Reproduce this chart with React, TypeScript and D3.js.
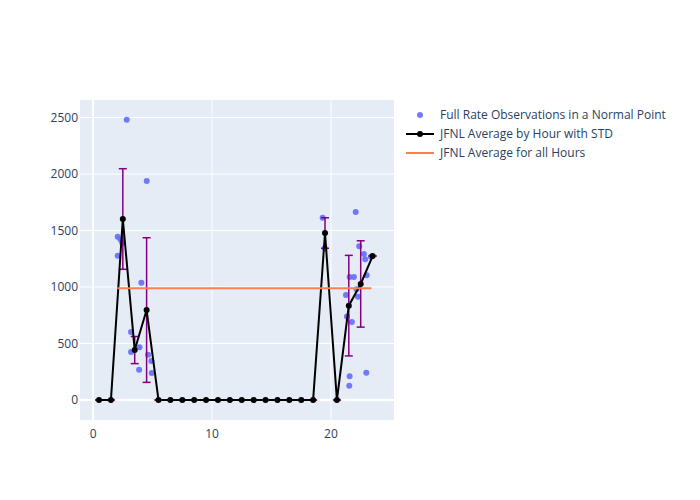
import React from "react";
import * as d3 from "d3";

const obsX = [2.83, 4.51, 2.07, 2.3, 2.45, 2.07, 4.06, 3.19, 3.19, 3.9, 3.87, 4.62, 4.9, 4.93,
  19.3, 19.47, 22.08, 22.38, 22.77, 22.88, 23.36, 21.57, 21.93, 23.0, 22.15, 22.27, 21.26, 21.34, 21.76, 21.57, 21.54, 22.97];
const obsY = [2480, 1938, 1445, 1420, 1390, 1277, 1038, 602, 425, 466, 268, 401, 345, 239,
  1613, 1342, 1664, 1360, 1292, 1245, 1268, 1088, 1088, 1103, 980, 914, 929, 740, 690, 210, 127, 242];

const hours = [0.5, 1.5, 2.5, 3.5, 4.5, 5.5, 6.5, 7.5, 8.5, 9.5, 10.5, 11.5, 12.5, 13.5, 14.5, 15.5, 16.5, 17.5, 18.5, 19.5, 20.5, 21.5, 22.5, 23.5];
const hourAvg = [0, 0, 1602, 442, 796, 0, 0, 0, 0, 0, 0, 0, 0, 0, 0, 0, 0, 0, 0, 1478, 0, 835, 1027, 1274];
const hourStd = [0, 0, 445, 120, 640, 0, 0, 0, 0, 0, 0, 0, 0, 0, 0, 0, 0, 0, 0, 135, 0, 445, 382, 0];

const overallAvg = 990;
const overallX = [2.04, 23.4];

const xTicks = [0, 10, 20];
const yTicks = [0, 500, 1000, 1500, 2000, 2500];

const legendLabels = [
  "Full Rate Observations in a Normal Point",
  "JFNL Average by Hour with STD",
  "JFNL Average for all Hours",
];

export default function App() {
  const W = 700, H = 500;
  const left = 80, right = 394, top = 100, bottom = 420;
  const x = d3.scaleLinear().domain([-1.1, 25.3]).range([left, right]);
  const y = d3.scaleLinear().domain([-177, 2655]).range([bottom, top]);
  const line = d3.line<number>().x((_, i) => x(hours[i])).y((d) => y(d));
  const font = "'Open Sans', sans-serif";
  const txt = "#2a3f5f";
  return (
    <svg width={W} height={H} style={{ position: "absolute", left: 0, top: 0 }}>
      <rect width={W} height={H} fill="#fff" />
      <rect x={left} y={top} width={right - left} height={bottom - top} fill="#E5ECF6" />
      {yTicks.map((t) => (
        <line key={"gy" + t} x1={left} x2={right} y1={y(t)} y2={y(t)} stroke="#fff" strokeWidth={t === 0 ? 2 : 1} />
      ))}
      {xTicks.map((t) => (
        <line key={"gx" + t} x1={x(t)} x2={x(t)} y1={top} y2={bottom} stroke="#fff" strokeWidth={t === 0 ? 2 : 1} />
      ))}
      {yTicks.map((t) => (
        <text key={"ty" + t} x={left - 2} y={y(t)} dy="0.35em" textAnchor="end" fontFamily={font} fontSize={12} fill={txt}>
          {t}
        </text>
      ))}
      {xTicks.map((t) => (
        <text key={"tx" + t} x={x(t)} y={bottom + 18} textAnchor="middle" fontFamily={font} fontSize={12} fill={txt}>
          {t}
        </text>
      ))}
      <g>
        {obsX.map((vx, i) => (
          <circle key={"o" + i} cx={x(vx)} cy={y(obsY[i])} r={3} fill="#636efa" opacity={0.9} />
        ))}
      </g>
      <g>
        {hours.map((h, i) => (
          <g key={"e" + i} stroke="#800080" strokeWidth={1.5}>
            <line x1={x(h)} x2={x(h)} y1={y(hourAvg[i] - hourStd[i])} y2={y(hourAvg[i] + hourStd[i])} />
            <line x1={x(h) - 4} x2={x(h) + 4} y1={y(hourAvg[i] - hourStd[i])} y2={y(hourAvg[i] - hourStd[i])} />
            <line x1={x(h) - 4} x2={x(h) + 4} y1={y(hourAvg[i] + hourStd[i])} y2={y(hourAvg[i] + hourStd[i])} />
          </g>
        ))}
        <path d={line(hourAvg) || ""} fill="none" stroke="#000" strokeWidth={2} />
        {hours.map((h, i) => (
          <circle key={"m" + i} cx={x(h)} cy={y(hourAvg[i])} r={3} fill="#000" />
        ))}
      </g>
      <line x1={x(overallX[0])} x2={x(overallX[1])} y1={y(overallAvg)} y2={y(overallAvg)} stroke="#ff7f50" strokeWidth={2} />
      <g fontFamily={font} fontSize={12} fill={txt}>
        <circle cx={420} cy={115} r={3} fill="#636efa" opacity={0.9} />
        <text x={440} y={115} dy="0.35em">{legendLabels[0]}</text>
        <line x1={406} x2={434} y1={134} y2={134} stroke="#000" strokeWidth={2} />
        <circle cx={420} cy={134} r={3} fill="#000" />
        <text x={440} y={134} dy="0.35em">{legendLabels[1]}</text>
        <line x1={406} x2={434} y1={153} y2={153} stroke="#ff7f50" strokeWidth={2} />
        <text x={440} y={153} dy="0.35em">{legendLabels[2]}</text>
      </g>
    </svg>
  );
}
